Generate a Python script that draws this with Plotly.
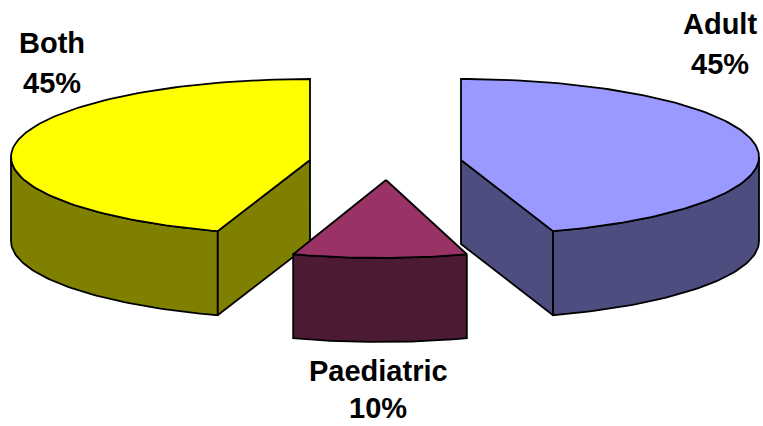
import math
import plotly.graph_objects as go

# Data, clockwise from twelve o'clock
categories = ["Adult", "Paediatric", "Both"]
shares = [45, 10, 45]

# Styling
top_colors = ["#9999ff", "#993366", "#ffff00"]
side_colors = ["#4d4d80", "#4d1a33", "#808000"]
FONT = "Liberation Sans"
FONT_SIZE = 29
OUTLINE = dict(color="#000000", width=1.8)

# Screen placement of each exploded slice, in pixels
apex_x = [461, 386, 310]
apex_y = [160, 180, 160]
rim_cx = [461, 380, 310]
rim_cy = [157, 181, 157]
radius_x = [298, 281, 299]
radius_y = [78, 77, 78]
DEPTH = 84

label_x = [720, 378, 52]
label_y = [24, 371, 43]
line_gap = [40, 37, 40]


def rim_points(i, a0, a1, steps=60):
    """Points along a slice's elliptical rim, angles clockwise from the top."""
    pts = []
    for k in range(steps + 1):
        a = math.radians(a0 + (a1 - a0) * k / steps)
        pts.append((rim_cx[i] + radius_x[i] * math.sin(a), rim_cy[i] - radius_y[i] * math.cos(a)))
    return pts


def polygon(pts, fill):
    xs = [p[0] for p in pts] + [pts[0][0]]
    ys = [p[1] for p in pts] + [pts[0][1]]
    return go.Scatter(x=xs, y=ys, mode="lines", fill="toself", fillcolor=fill,
                      line=OUTLINE, hoverinfo="skip", showlegend=False)


total = sum(shares)
bounds = [0]
for s in shares:
    bounds.append(bounds[-1] + 360 * s / total)

fig = go.Figure()

# Back to front: Both, Adult, then Paediatric on top
for i in [2, 0, 1]:
    start, end = bounds[i], bounds[i + 1]
    apex = (apex_x[i], apex_y[i])
    lower = lambda p: (p[0], p[1] + DEPTH)

    # Visible cut faces
    if math.sin(math.radians(end)) > 1e-6:
        corner = rim_points(i, end, end, 1)[0]
        fig.add_trace(polygon([apex, corner, lower(corner), lower(apex)], side_colors[i]))
    if math.sin(math.radians(start)) < -1e-6:
        corner = rim_points(i, start, start, 1)[0]
        fig.add_trace(polygon([apex, corner, lower(corner), lower(apex)], side_colors[i]))

    # Outer wall: the part of the rim facing the viewer
    front0, front1 = max(start, 90), min(end, 270)
    if front1 > front0:
        rim = rim_points(i, front0, front1)
        fig.add_trace(polygon(rim + [lower(p) for p in reversed(rim)], side_colors[i]))

    # Top face
    fig.add_trace(polygon([apex] + rim_points(i, start, end, 120), top_colors[i]))

# Two-line labels: category name and share
for i, name in enumerate(categories):
    for line, text in enumerate([name, f"{shares[i]}%"]):
        fig.add_annotation(x=label_x[i], y=label_y[i] + line * line_gap[i], text=f"<b>{text}</b>",
                           showarrow=False, xanchor="center", yanchor="middle",
                           font=dict(family=FONT, size=FONT_SIZE, color="#000000"))

fig.update_layout(
    width=763, height=426, margin=dict(l=0, r=0, t=0, b=0),
    paper_bgcolor="#ffffff", plot_bgcolor="#ffffff", showlegend=False,
    xaxis=dict(range=[0, 763], visible=False, fixedrange=True),
    yaxis=dict(range=[426, 0], visible=False, fixedrange=True),
)

fig.write_html("out.html", config={"displayModeBar": False})
